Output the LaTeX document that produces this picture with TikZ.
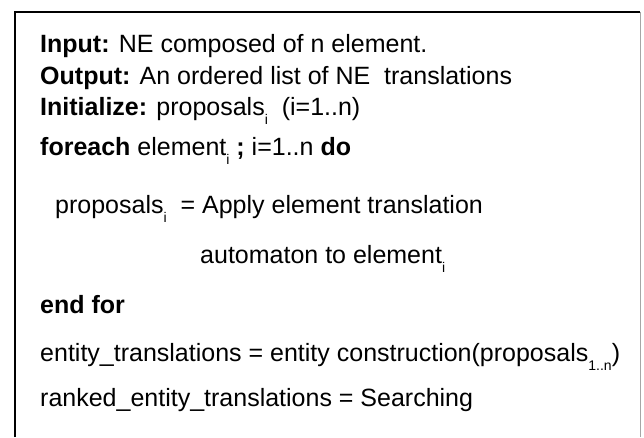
\documentclass[tikz,border=0pt]{standalone}
\usepackage{fontspec}
\setmainfont{Liberation Sans}
\newcommand{\mysub}[1]{\raisebox{-9pt}{\fontsize{14}{14}\selectfont #1}}
\begin{document}
\begin{tikzpicture}[x=1pt,y=-1pt,
  txt/.style={anchor=base west, inner sep=0pt, font=\fontsize{25}{30}\selectfont}]
\useasboundingbox (0,0) rectangle (644,437);
\coordinate (bl) at (15,437);
\coordinate (tl) at (15,12);
\coordinate (tr) at (640,12);
\coordinate (br) at (640,437);
\draw[line width=1.5pt] (bl) -- (tl) -- (tr);
\draw[gray!70, line width=1pt] (tr) -- (br);
\node[txt] (l1) at (40,52) {\textbf{Input:} NE composed of n element.};
\node[txt] (l2) at (40,84) {\textbf{Output:} An ordered list of NE\ \ translations};
\node[txt] (l3) at (40,115) {\textbf{Initialize:} proposals\mysub{i}\ \ (i=1..n)};
\node[txt] (l4) at (40,155) {\textbf{foreach} element\mysub{i} \textbf{;} i=1..n \textbf{do}};
\node[txt] (l5) at (55,213) {proposals\mysub{i}\ \ = Apply element translation};
\node[txt] (l6) at (200,263) {automaton to element\mysub{i}};
\node[txt] (l7) at (40,313) {\textbf{end for}};
\node[txt] (l8) at (40,361) {entity\_translations = entity construction(proposals\mysub{1..n})};
\node[txt] (l9) at (40,406) {ranked\_entity\_translations = Searching};
\end{tikzpicture}
\end{document}
